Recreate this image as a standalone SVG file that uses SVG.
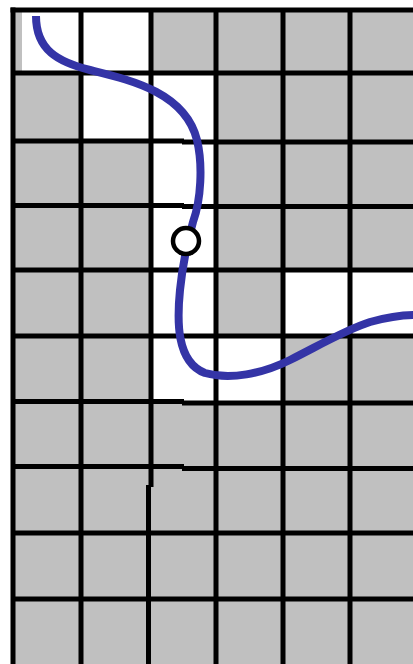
<svg xmlns="http://www.w3.org/2000/svg" width="413" height="664" viewBox="0 0 413 664">
<style>
.w{fill:#ffffff}
.g{stroke:#000;stroke-width:5;fill:none}
.c{stroke:#3434a6;stroke-width:8;fill:none;stroke-linecap:butt}
</style>
<rect x="0" y="0" width="413" height="664" fill="#ffffff"/>
<g id="background">
<rect x="13" y="10" width="400" height="654" fill="#c0c0c0"/>
</g>
<g id="white-cells">
<rect class="w" x="22" y="10" width="59" height="63"/>
<rect class="w" x="81" y="10" width="69" height="63"/>
<rect class="w" x="81" y="73" width="69" height="67"/>
<rect class="w" x="150" y="73" width="66" height="67"/>
<rect class="w" x="150" y="140" width="66" height="66"/>
<rect class="w" x="150" y="206" width="66" height="64"/>
<rect class="w" x="150" y="270" width="66" height="66"/>
<rect class="w" x="283" y="270" width="67" height="66"/>
<rect class="w" x="350" y="270" width="63" height="66"/>
<rect class="w" x="150" y="336" width="66" height="66"/>
<rect class="w" x="216" y="336" width="67" height="66"/>
</g>
<g id="grid">
<path class="g" d="M13,7.5V664 M81,10V664 M151,10V487 M148.5,485V664 M216,10V664 M283,10V664 M350,10V664"/>
<path class="g" d="M10.5,10H413 M13,73H413 M13,141H184 M182,142H413 M13,205.5H184 M182,206.5H413 M13,270H413 M13,336H413 M13,401.5H184 M182,403H413 M13,466.5H184 M182,468.5H413 M13,533H413 M13,599H413"/>
</g>
<g id="connectors">
<path class="c" d="M36,16 C36,50 58,62 90,70 C130,80 185,92 197,140 C203,165 201,200 193,222 C188,240 183,260 180,290 C177,320 176,362 205,373 C230,380 262,374 290,360 C320,345 345,330 370,322 C388,317 400,315 415,315"/>
</g>
<g id="marker-node">
<circle cx="186" cy="241" r="13" fill="#ffffff" stroke="#000" stroke-width="4.5"/>
</g>
</svg>
